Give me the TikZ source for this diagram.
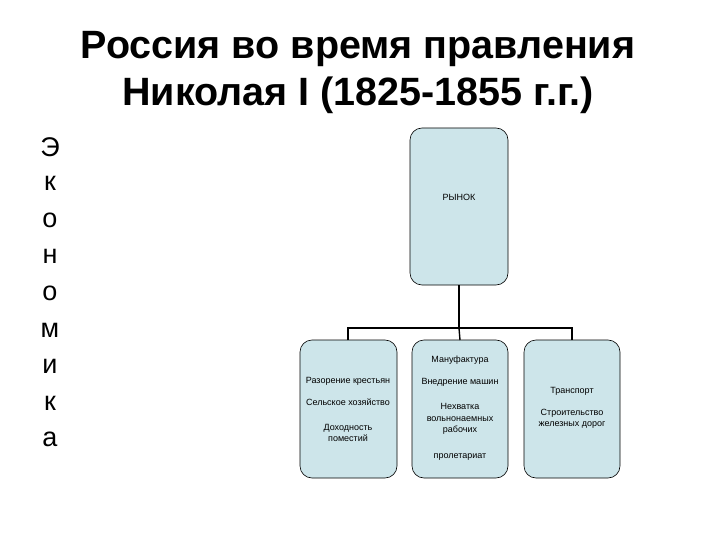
\documentclass[tikz,border=0pt]{standalone}
\usepackage{fontspec}
\setmainfont{Liberation Sans}
\begin{document}
\begin{tikzpicture}[x=1pt,y=-1pt,
  box/.style={draw=black,fill=boxc,rounded corners=12pt,line width=0.6pt},
  sm/.style={font=\fontsize{9}{11.5}\selectfont,align=center,inner sep=0pt},
  lt/.style={font=\fontsize{27}{30}\selectfont,inner sep=0pt}]
\definecolor{boxc}{HTML}{CDE5EA}
\useasboundingbox (0,0) rectangle (720,540);
\node[font=\bfseries\fontsize{39.5}{47}\selectfont,align=center] (title) at (358,73) {Россия во время правления\\Николая I (1825-1855 г.г.)};
\foreach \l [count=\i] in {Э,к,о,н,о,м,и,к,а}
  \node[lt] (l\i) at (50,{147+36.6*(\i-1)}) {\l};
\draw[box] (410,128) rectangle (508,285);
\node[sm] (top) at (459,197) {РЫНОК};
\draw[box] (300,340) rectangle (397,478);
\draw[box] (412,340) rectangle (508,478);
\draw[box] (524,340) rectangle (620,478);
\coordinate (tb) at (459,285);
\coordinate (j) at (459,328);
\coordinate (la) at (348,328); \coordinate (lb) at (348,340);
\coordinate (mb) at (460,340);
\coordinate (ra) at (572,328); \coordinate (rb) at (572,340);
\draw[line width=1.4pt] (tb) -- (j);
\draw[line width=1.4pt] (lb) -- (la) -- (ra) -- (rb);
\draw[line width=1.4pt] (j) -- (mb);
\node[sm] (a1) at (348,381) {Разорение крестьян};
\node[sm] (a2) at (348,402) {Сельское хозяйство};
\node[sm] (a3) at (348,433) {Доходность\\поместий};
\node[sm] (b1) at (460,360) {Мануфактура};
\node[sm] (b2) at (460,382) {Внедрение машин};
\node[sm] (b3) at (460,419) {Нехватка\\вольнонаемных\\рабочих};
\node[sm] (b4) at (460,457) {пролетариат};
\node[sm] (c1) at (572,391) {Транспорт};
\node[sm] (c2) at (572,419) {Строительство\\железных дорог};
\end{tikzpicture}
\end{document}
